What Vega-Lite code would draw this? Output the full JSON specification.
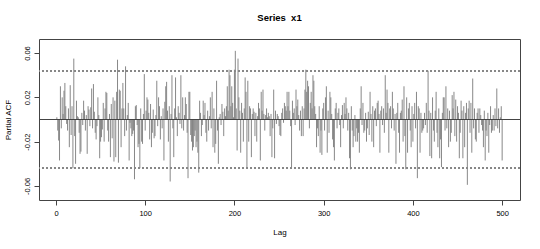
{
  "$schema": "https://vega.github.io/schema/vega-lite/v6.json",
  "width": 481,
  "height": 161,
  "autosize": {"type": "none"},
  "padding": {"left": 39, "top": 39, "right": 20, "bottom": 49},
  "background": "white",
  "title": {"text": "Series\u00a0 x1", "font": "Liberation Sans", "fontSize": 9.5, "fontWeight": "bold", "anchor": "middle", "offset": 17, "color": "#000"},
  "config": {
    "view": {"stroke": "#444", "strokeWidth": 1},
    "axis": {"grid": false, "domain": false, "tickColor": "#444", "tickSize": 5, "labelFont": "Liberation Sans", "titleFont": "Liberation Sans", "labelFontSize": 7.5, "titleFontSize": 8, "labelColor": "#000", "titleColor": "#000", "titleFontWeight": "normal"}
  },
  "datasets": {
    "pacf": [
      {"lag":1,"pacf":0.002},{"lag":2,"pacf":-0.010},{"lag":3,"pacf":-0.019},{"lag":4,"pacf":-0.037},{"lag":5,"pacf":0.030},{"lag":6,"pacf":-0.008},{"lag":7,"pacf":0.020},{"lag":8,"pacf":0.005},{"lag":9,"pacf":0.026},{"lag":10,"pacf":0.033},
      {"lag":11,"pacf":0.012},{"lag":12,"pacf":-0.004},{"lag":13,"pacf":-0.010},{"lag":14,"pacf":0.010},{"lag":15,"pacf":-0.025},{"lag":16,"pacf":0.031},{"lag":17,"pacf":-0.014},{"lag":18,"pacf":0.012},{"lag":19,"pacf":-0.044},{"lag":20,"pacf":0.055},
      {"lag":21,"pacf":-0.015},{"lag":22,"pacf":-0.040},{"lag":23,"pacf":0.017},{"lag":24,"pacf":0.003},{"lag":25,"pacf":0.002},{"lag":26,"pacf":-0.012},{"lag":27,"pacf":-0.031},{"lag":28,"pacf":-0.029},{"lag":29,"pacf":0.006},{"lag":30,"pacf":-0.005},
      {"lag":31,"pacf":0.017},{"lag":32,"pacf":0.008},{"lag":33,"pacf":-0.010},{"lag":34,"pacf":0.004},{"lag":35,"pacf":-0.031},{"lag":36,"pacf":0.012},{"lag":37,"pacf":0.009},{"lag":38,"pacf":-0.006},{"lag":39,"pacf":0.011},{"lag":40,"pacf":0.028},
      {"lag":41,"pacf":-0.008},{"lag":42,"pacf":0.032},{"lag":43,"pacf":0.007},{"lag":44,"pacf":-0.012},{"lag":45,"pacf":-0.018},{"lag":46,"pacf":-0.006},{"lag":47,"pacf":0.020},{"lag":48,"pacf":0.004},{"lag":49,"pacf":-0.035},{"lag":50,"pacf":-0.020},
      {"lag":51,"pacf":-0.016},{"lag":52,"pacf":-0.009},{"lag":53,"pacf":0.015},{"lag":54,"pacf":-0.020},{"lag":55,"pacf":0.010},{"lag":56,"pacf":0.025},{"lag":57,"pacf":0.024},{"lag":58,"pacf":-0.010},{"lag":59,"pacf":-0.020},{"lag":60,"pacf":0.005},
      {"lag":61,"pacf":-0.034},{"lag":62,"pacf":0.014},{"lag":63,"pacf":-0.017},{"lag":64,"pacf":0.020},{"lag":65,"pacf":-0.038},{"lag":66,"pacf":0.017},{"lag":67,"pacf":-0.034},{"lag":68,"pacf":0.025},{"lag":69,"pacf":0.054},{"lag":70,"pacf":-0.039},
      {"lag":71,"pacf":0.027},{"lag":72,"pacf":0.026},{"lag":73,"pacf":-0.025},{"lag":74,"pacf":0.010},{"lag":75,"pacf":0.033},{"lag":76,"pacf":0.010},{"lag":77,"pacf":-0.015},{"lag":78,"pacf":0.048},{"lag":79,"pacf":-0.010},{"lag":80,"pacf":0.004},
      {"lag":81,"pacf":0.015},{"lag":82,"pacf":-0.037},{"lag":83,"pacf":-0.003},{"lag":84,"pacf":-0.008},{"lag":85,"pacf":-0.015},{"lag":86,"pacf":-0.013},{"lag":87,"pacf":-0.010},{"lag":88,"pacf":-0.054},{"lag":89,"pacf":0.012},{"lag":90,"pacf":0.013},
      {"lag":91,"pacf":-0.005},{"lag":92,"pacf":-0.025},{"lag":93,"pacf":-0.022},{"lag":94,"pacf":-0.044},{"lag":95,"pacf":0.010},{"lag":96,"pacf":-0.020},{"lag":97,"pacf":-0.022},{"lag":98,"pacf":0.005},{"lag":99,"pacf":0.041},{"lag":100,"pacf":-0.010},
      {"lag":101,"pacf":0.008},{"lag":102,"pacf":0.020},{"lag":103,"pacf":0.018},{"lag":104,"pacf":0.006},{"lag":105,"pacf":-0.018},{"lag":106,"pacf":0.014},{"lag":107,"pacf":-0.025},{"lag":108,"pacf":-0.012},{"lag":109,"pacf":0.009},{"lag":110,"pacf":-0.017},
      {"lag":111,"pacf":-0.015},{"lag":112,"pacf":0.004},{"lag":113,"pacf":0.035},{"lag":114,"pacf":-0.006},{"lag":115,"pacf":0.020},{"lag":116,"pacf":0.012},{"lag":117,"pacf":-0.018},{"lag":118,"pacf":0.003},{"lag":119,"pacf":-0.008},{"lag":120,"pacf":0.010},
      {"lag":121,"pacf":-0.037},{"lag":122,"pacf":0.016},{"lag":123,"pacf":0.030},{"lag":124,"pacf":0.034},{"lag":125,"pacf":0.008},{"lag":126,"pacf":-0.020},{"lag":127,"pacf":0.012},{"lag":128,"pacf":-0.056},{"lag":129,"pacf":0.005},{"lag":130,"pacf":0.040},
      {"lag":131,"pacf":-0.008},{"lag":132,"pacf":-0.034},{"lag":133,"pacf":0.010},{"lag":134,"pacf":0.038},{"lag":135,"pacf":0.002},{"lag":136,"pacf":-0.015},{"lag":137,"pacf":0.012},{"lag":138,"pacf":0.006},{"lag":139,"pacf":-0.004},{"lag":140,"pacf":0.040},
      {"lag":141,"pacf":-0.008},{"lag":142,"pacf":0.020},{"lag":143,"pacf":-0.010},{"lag":144,"pacf":0.004},{"lag":145,"pacf":0.020},{"lag":146,"pacf":0.014},{"lag":147,"pacf":-0.012},{"lag":148,"pacf":-0.053},{"lag":149,"pacf":0.025},{"lag":150,"pacf":0.025},
      {"lag":151,"pacf":-0.014},{"lag":152,"pacf":-0.020},{"lag":153,"pacf":-0.028},{"lag":154,"pacf":-0.025},{"lag":155,"pacf":-0.015},{"lag":156,"pacf":-0.010},{"lag":157,"pacf":-0.025},{"lag":158,"pacf":-0.020},{"lag":159,"pacf":-0.030},{"lag":160,"pacf":-0.048},
      {"lag":161,"pacf":0.017},{"lag":162,"pacf":0.006},{"lag":163,"pacf":-0.015},{"lag":164,"pacf":-0.005},{"lag":165,"pacf":0.017},{"lag":166,"pacf":0.004},{"lag":167,"pacf":0.015},{"lag":168,"pacf":-0.012},{"lag":169,"pacf":-0.020},{"lag":170,"pacf":0.008},
      {"lag":171,"pacf":-0.010},{"lag":172,"pacf":0.003},{"lag":173,"pacf":0.020},{"lag":174,"pacf":-0.008},{"lag":175,"pacf":0.025},{"lag":176,"pacf":-0.025},{"lag":177,"pacf":0.010},{"lag":178,"pacf":-0.030},{"lag":179,"pacf":-0.022},{"lag":180,"pacf":0.035},
      {"lag":181,"pacf":-0.010},{"lag":182,"pacf":-0.040},{"lag":183,"pacf":0.002},{"lag":184,"pacf":0.005},{"lag":185,"pacf":-0.005},{"lag":186,"pacf":0.014},{"lag":187,"pacf":0.007},{"lag":188,"pacf":-0.015},{"lag":189,"pacf":0.010},{"lag":190,"pacf":0.003},
      {"lag":191,"pacf":0.012},{"lag":192,"pacf":0.030},{"lag":193,"pacf":0.008},{"lag":194,"pacf":0.045},{"lag":195,"pacf":0.040},{"lag":196,"pacf":0.012},{"lag":197,"pacf":0.030},{"lag":198,"pacf":0.015},{"lag":199,"pacf":0.002},{"lag":200,"pacf":0.045},
      {"lag":201,"pacf":0.062},{"lag":202,"pacf":0.010},{"lag":203,"pacf":-0.028},{"lag":204,"pacf":0.055},{"lag":205,"pacf":0.020},{"lag":206,"pacf":0.008},{"lag":207,"pacf":-0.030},{"lag":208,"pacf":0.015},{"lag":209,"pacf":0.006},{"lag":210,"pacf":-0.020},
      {"lag":211,"pacf":0.010},{"lag":212,"pacf":0.038},{"lag":213,"pacf":0.025},{"lag":214,"pacf":-0.044},{"lag":215,"pacf":0.035},{"lag":216,"pacf":-0.020},{"lag":217,"pacf":0.012},{"lag":218,"pacf":0.010},{"lag":219,"pacf":-0.034},{"lag":220,"pacf":0.005},
      {"lag":221,"pacf":0.010},{"lag":222,"pacf":0.007},{"lag":223,"pacf":-0.015},{"lag":224,"pacf":0.006},{"lag":225,"pacf":-0.020},{"lag":226,"pacf":0.003},{"lag":227,"pacf":0.015},{"lag":228,"pacf":0.010},{"lag":229,"pacf":-0.037},{"lag":230,"pacf":0.025},
      {"lag":231,"pacf":0.008},{"lag":232,"pacf":0.027},{"lag":233,"pacf":0.005},{"lag":234,"pacf":-0.010},{"lag":235,"pacf":0.004},{"lag":236,"pacf":0.010},{"lag":237,"pacf":0.002},{"lag":238,"pacf":0.006},{"lag":239,"pacf":0.003},{"lag":240,"pacf":-0.015},
      {"lag":241,"pacf":0.005},{"lag":242,"pacf":-0.034},{"lag":243,"pacf":-0.008},{"lag":244,"pacf":0.027},{"lag":245,"pacf":-0.035},{"lag":246,"pacf":0.008},{"lag":247,"pacf":-0.004},{"lag":248,"pacf":0.005},{"lag":249,"pacf":0.003},{"lag":250,"pacf":-0.006},
      {"lag":251,"pacf":-0.014},{"lag":252,"pacf":-0.015},{"lag":253,"pacf":0.006},{"lag":254,"pacf":0.010},{"lag":255,"pacf":-0.003},{"lag":256,"pacf":0.015},{"lag":257,"pacf":0.012},{"lag":258,"pacf":0.008},{"lag":259,"pacf":0.025},{"lag":260,"pacf":0.012},
      {"lag":261,"pacf":0.025},{"lag":262,"pacf":0.008},{"lag":263,"pacf":-0.006},{"lag":264,"pacf":-0.043},{"lag":265,"pacf":0.017},{"lag":266,"pacf":0.006},{"lag":267,"pacf":0.010},{"lag":268,"pacf":-0.005},{"lag":269,"pacf":0.027},{"lag":270,"pacf":0.012},
      {"lag":271,"pacf":0.018},{"lag":272,"pacf":0.004},{"lag":273,"pacf":-0.010},{"lag":274,"pacf":0.008},{"lag":275,"pacf":-0.015},{"lag":276,"pacf":0.012},{"lag":277,"pacf":-0.015},{"lag":278,"pacf":0.010},{"lag":279,"pacf":0.027},{"lag":280,"pacf":0.045},
      {"lag":281,"pacf":0.025},{"lag":282,"pacf":0.035},{"lag":283,"pacf":0.030},{"lag":284,"pacf":-0.008},{"lag":285,"pacf":0.015},{"lag":286,"pacf":0.025},{"lag":287,"pacf":0.010},{"lag":288,"pacf":0.040},{"lag":289,"pacf":0.035},{"lag":290,"pacf":0.012},
      {"lag":291,"pacf":0.005},{"lag":292,"pacf":-0.025},{"lag":293,"pacf":-0.008},{"lag":294,"pacf":-0.015},{"lag":295,"pacf":0.012},{"lag":296,"pacf":-0.030},{"lag":297,"pacf":-0.010},{"lag":298,"pacf":-0.032},{"lag":299,"pacf":0.010},{"lag":300,"pacf":0.015},
      {"lag":301,"pacf":-0.010},{"lag":302,"pacf":0.020},{"lag":303,"pacf":0.030},{"lag":304,"pacf":-0.030},{"lag":305,"pacf":0.008},{"lag":306,"pacf":-0.012},{"lag":307,"pacf":0.025},{"lag":308,"pacf":0.020},{"lag":309,"pacf":0.005},{"lag":310,"pacf":-0.018},
      {"lag":311,"pacf":-0.025},{"lag":312,"pacf":-0.037},{"lag":313,"pacf":0.010},{"lag":314,"pacf":0.015},{"lag":315,"pacf":-0.008},{"lag":316,"pacf":0.006},{"lag":317,"pacf":0.010},{"lag":318,"pacf":-0.005},{"lag":319,"pacf":-0.025},{"lag":320,"pacf":0.004},
      {"lag":321,"pacf":0.013},{"lag":322,"pacf":-0.008},{"lag":323,"pacf":0.015},{"lag":324,"pacf":0.005},{"lag":325,"pacf":0.020},{"lag":326,"pacf":0.010},{"lag":327,"pacf":-0.010},{"lag":328,"pacf":0.006},{"lag":329,"pacf":-0.035},{"lag":330,"pacf":-0.045},
      {"lag":331,"pacf":0.012},{"lag":332,"pacf":-0.010},{"lag":333,"pacf":-0.025},{"lag":334,"pacf":-0.015},{"lag":335,"pacf":0.004},{"lag":336,"pacf":-0.020},{"lag":337,"pacf":-0.008},{"lag":338,"pacf":-0.020},{"lag":339,"pacf":-0.012},{"lag":340,"pacf":-0.030},
      {"lag":341,"pacf":0.010},{"lag":342,"pacf":0.030},{"lag":343,"pacf":-0.005},{"lag":344,"pacf":0.015},{"lag":345,"pacf":-0.012},{"lag":346,"pacf":-0.010},{"lag":347,"pacf":0.006},{"lag":348,"pacf":-0.020},{"lag":349,"pacf":-0.008},{"lag":350,"pacf":0.007},
      {"lag":351,"pacf":-0.014},{"lag":352,"pacf":0.025},{"lag":353,"pacf":0.005},{"lag":354,"pacf":-0.020},{"lag":355,"pacf":0.012},{"lag":356,"pacf":-0.025},{"lag":357,"pacf":0.008},{"lag":358,"pacf":0.010},{"lag":359,"pacf":-0.006},{"lag":360,"pacf":0.015},
      {"lag":361,"pacf":0.017},{"lag":362,"pacf":0.005},{"lag":363,"pacf":-0.030},{"lag":364,"pacf":0.008},{"lag":365,"pacf":0.012},{"lag":366,"pacf":-0.005},{"lag":367,"pacf":0.010},{"lag":368,"pacf":-0.012},{"lag":369,"pacf":0.040},{"lag":370,"pacf":0.006},
      {"lag":371,"pacf":0.027},{"lag":372,"pacf":0.015},{"lag":373,"pacf":-0.030},{"lag":374,"pacf":0.010},{"lag":375,"pacf":0.012},{"lag":376,"pacf":-0.008},{"lag":377,"pacf":0.025},{"lag":378,"pacf":0.010},{"lag":379,"pacf":-0.010},{"lag":380,"pacf":0.005},
      {"lag":381,"pacf":-0.040},{"lag":382,"pacf":0.006},{"lag":383,"pacf":0.015},{"lag":384,"pacf":-0.012},{"lag":385,"pacf":-0.030},{"lag":386,"pacf":0.006},{"lag":387,"pacf":0.008},{"lag":388,"pacf":0.018},{"lag":389,"pacf":-0.020},{"lag":390,"pacf":0.030},
      {"lag":391,"pacf":-0.015},{"lag":392,"pacf":-0.045},{"lag":393,"pacf":0.020},{"lag":394,"pacf":-0.030},{"lag":395,"pacf":0.010},{"lag":396,"pacf":0.015},{"lag":397,"pacf":-0.010},{"lag":398,"pacf":-0.025},{"lag":399,"pacf":0.012},{"lag":400,"pacf":-0.020},
      {"lag":401,"pacf":0.005},{"lag":402,"pacf":0.015},{"lag":403,"pacf":-0.008},{"lag":404,"pacf":0.025},{"lag":405,"pacf":-0.053},{"lag":406,"pacf":0.012},{"lag":407,"pacf":0.010},{"lag":408,"pacf":-0.030},{"lag":409,"pacf":0.006},{"lag":410,"pacf":-0.012},
      {"lag":411,"pacf":-0.010},{"lag":412,"pacf":-0.008},{"lag":413,"pacf":0.006},{"lag":414,"pacf":-0.005},{"lag":415,"pacf":0.015},{"lag":416,"pacf":-0.012},{"lag":417,"pacf":0.044},{"lag":418,"pacf":0.008},{"lag":419,"pacf":-0.033},{"lag":420,"pacf":0.006},
      {"lag":421,"pacf":-0.035},{"lag":422,"pacf":0.020},{"lag":423,"pacf":-0.010},{"lag":424,"pacf":-0.020},{"lag":425,"pacf":0.008},{"lag":426,"pacf":0.025},{"lag":427,"pacf":-0.012},{"lag":428,"pacf":-0.025},{"lag":429,"pacf":0.010},{"lag":430,"pacf":-0.035},
      {"lag":431,"pacf":-0.018},{"lag":432,"pacf":-0.043},{"lag":433,"pacf":0.006},{"lag":434,"pacf":0.020},{"lag":435,"pacf":0.020},{"lag":436,"pacf":-0.010},{"lag":437,"pacf":0.030},{"lag":438,"pacf":-0.008},{"lag":439,"pacf":0.010},{"lag":440,"pacf":-0.025},
      {"lag":441,"pacf":0.008},{"lag":442,"pacf":-0.020},{"lag":443,"pacf":-0.012},{"lag":444,"pacf":0.022},{"lag":445,"pacf":0.010},{"lag":446,"pacf":0.025},{"lag":447,"pacf":-0.015},{"lag":448,"pacf":0.018},{"lag":449,"pacf":-0.020},{"lag":450,"pacf":0.012},
      {"lag":451,"pacf":0.006},{"lag":452,"pacf":-0.035},{"lag":453,"pacf":-0.012},{"lag":454,"pacf":0.017},{"lag":455,"pacf":0.008},{"lag":456,"pacf":-0.035},{"lag":457,"pacf":0.012},{"lag":458,"pacf":-0.025},{"lag":459,"pacf":0.006},{"lag":460,"pacf":0.015},
      {"lag":461,"pacf":-0.059},{"lag":462,"pacf":0.010},{"lag":463,"pacf":0.017},{"lag":464,"pacf":-0.012},{"lag":465,"pacf":0.015},{"lag":466,"pacf":-0.030},{"lag":467,"pacf":0.037},{"lag":468,"pacf":-0.008},{"lag":469,"pacf":0.010},{"lag":470,"pacf":-0.018},
      {"lag":471,"pacf":-0.020},{"lag":472,"pacf":0.006},{"lag":473,"pacf":0.010},{"lag":474,"pacf":-0.012},{"lag":475,"pacf":0.010},{"lag":476,"pacf":0.004},{"lag":477,"pacf":-0.005},{"lag":478,"pacf":-0.010},{"lag":479,"pacf":-0.025},{"lag":480,"pacf":0.008},
      {"lag":481,"pacf":-0.037},{"lag":482,"pacf":-0.010},{"lag":483,"pacf":-0.015},{"lag":484,"pacf":0.006},{"lag":485,"pacf":-0.030},{"lag":486,"pacf":-0.005},{"lag":487,"pacf":0.012},{"lag":488,"pacf":-0.012},{"lag":489,"pacf":-0.010},{"lag":490,"pacf":0.004},
      {"lag":491,"pacf":-0.010},{"lag":492,"pacf":0.010},{"lag":493,"pacf":-0.006},{"lag":494,"pacf":0.028},{"lag":495,"pacf":-0.008},{"lag":496,"pacf":0.010},{"lag":497,"pacf":-0.012},{"lag":498,"pacf":0.002},{"lag":499,"pacf":0.012},{"lag":500,"pacf":-0.037}
    ]
  },
  "data": {"name": "pacf"},
  "layer": [
    {
      "mark": {"type": "rule", "color": "#7a7a7a", "strokeWidth": 0.9},
      "encoding": {
        "x": {"field": "lag", "type": "quantitative", "scale": {"domain": [-19, 520], "nice": false, "zero": false},
              "axis": {"values": [0, 100, 200, 300, 400, 500], "title": "Lag", "labelPadding": 4.5, "titlePadding": 11}},
        "y": {"field": "pacf", "type": "quantitative", "scale": {"domain": [-0.0727, 0.0727], "nice": false, "zero": false},
              "axis": {"values": [-0.06, -0.04, -0.02, 0, 0.02, 0.04, 0.06], "title": "Partial ACF",
                       "labelExpr": "datum.value == 0 || datum.value == -0.04 ? '' : '' + datum.value",
                       "labelAngle": -90, "labelAlign": "center", "labelBaseline": "bottom", "labelPadding": 3, "titlePadding": 11}},
        "y2": {"datum": 0}
      }
    },
    {
      "mark": {"type": "rule", "color": "#444", "strokeWidth": 1},
      "encoding": {"y": {"datum": 0}}
    },
    {
      "mark": {"type": "rule", "color": "#888", "strokeWidth": 0.8, "strokeDash": [2, 2]},
      "encoding": {"y": {"datum": 0.0438}}
    },
    {
      "mark": {"type": "rule", "color": "#888", "strokeWidth": 0.8, "strokeDash": [2, 2]},
      "encoding": {"y": {"datum": -0.0438}}
    }
  ]
}
